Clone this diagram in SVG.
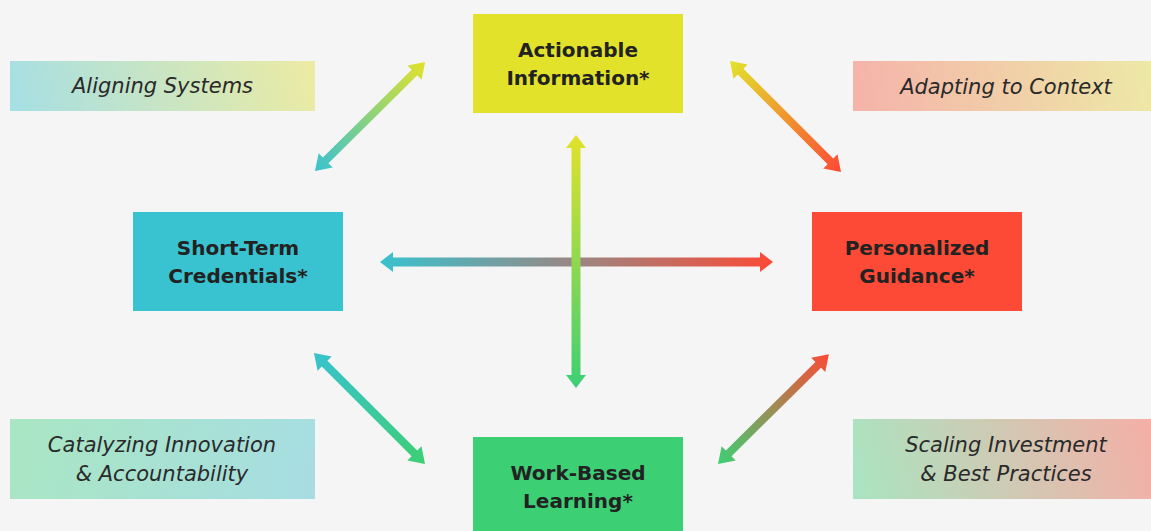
<svg xmlns="http://www.w3.org/2000/svg" width="1151" height="531" viewBox="0 0 1151 531">
<defs>
<style>
.node-label{font-family:"DejaVu Sans","Liberation Sans",sans-serif;font-weight:bold;font-size:20px;fill:#222;text-anchor:middle}
.theme{font-family:"DejaVu Sans","Liberation Sans",sans-serif;font-style:italic;font-size:21px;fill:#2a2a2a;text-anchor:middle}
</style>
<linearGradient id="gAlign" gradientUnits="userSpaceOnUse" x1="20" y1="131" x2="305" y2="41"><stop offset="0" stop-color="#a6dfe4"/><stop offset="1" stop-color="#ecebA3"/></linearGradient>
<linearGradient id="gAdapt" gradientUnits="userSpaceOnUse" x1="863" y1="111" x2="1151" y2="61"><stop offset="0" stop-color="#f5b4aa"/><stop offset="1" stop-color="#ede9a6"/></linearGradient>
<linearGradient id="gCat" gradientUnits="userSpaceOnUse" x1="10" y1="419" x2="315" y2="499"><stop offset="0" stop-color="#a9e6c2"/><stop offset="1" stop-color="#a7dde3"/></linearGradient>
<linearGradient id="gScale" gradientUnits="userSpaceOnUse" x1="853" y1="499" x2="1151" y2="419"><stop offset="0" stop-color="#a9e5c1"/><stop offset="1" stop-color="#f5afa7"/></linearGradient>
<linearGradient id="aTealRed" x1="0" y1="0" x2="1" y2="0"><stop offset="0" stop-color="#39c2cf"/><stop offset="1" stop-color="#fc4a36"/></linearGradient>
<linearGradient id="aYelGreen" x1="0" y1="0" x2="1" y2="0"><stop offset="0" stop-color="#e2e22a"/><stop offset="1" stop-color="#3dcf74"/></linearGradient>
<linearGradient id="aTealYel" x1="0" y1="0" x2="1" y2="0"><stop offset="0" stop-color="#39c2cf"/><stop offset="1" stop-color="#e2e22a"/></linearGradient>
<linearGradient id="aYelRed" x1="0" y1="0" x2="1" y2="0"><stop offset="0" stop-color="#e2e22a"/><stop offset="1" stop-color="#fc4a36"/></linearGradient>
<linearGradient id="aTealGreen" x1="0" y1="0" x2="1" y2="0"><stop offset="0" stop-color="#39c2cf"/><stop offset="1" stop-color="#3dcf74"/></linearGradient>
<linearGradient id="aGreenRed" x1="0" y1="0" x2="1" y2="0"><stop offset="0" stop-color="#3dcf74"/><stop offset="1" stop-color="#fc4a36"/></linearGradient>
</defs>
<rect width="1151" height="531" fill="#f5f5f5"/>

<g id="themes">
<g id="theme-aligning"><rect x="10" y="61" width="305" height="50" fill="url(#gAlign)"/><text class="theme" x="162.5" y="93">Aligning Systems</text></g>
<g id="theme-adapting"><rect x="853" y="61" width="306" height="50" fill="url(#gAdapt)"/><text class="theme" x="1006" y="94">Adapting to Context</text></g>
<g id="theme-catalyzing"><rect x="10" y="419" width="305" height="80" fill="url(#gCat)"/><text class="theme" x="162" y="452">Catalyzing Innovation</text><text class="theme" x="162" y="481">&amp; Accountability</text></g>
<g id="theme-scaling"><rect x="853" y="419" width="306" height="80" fill="url(#gScale)"/><text class="theme" x="1006" y="452">Scaling Investment</text><text class="theme" x="1006" y="481">&amp; Best Practices</text></g>
</g>

<g id="connectors">
<path transform="translate(380,262)" fill="url(#aTealRed)" d="M0,0 L13,-10 L13,-4.5 L380,-4.5 L380,-10 L393,0 L380,10 L380,4.5 L13,4.5 L13,10 Z"/>
<path transform="translate(576,135) rotate(90)" fill="url(#aYelGreen)" d="M0,0 L13,-10 L13,-4.5 L240,-4.5 L240,-10 L253,0 L240,10 L240,4.5 L13,4.5 L13,10 Z"/>
<path transform="translate(315,171) rotate(-44.7)" fill="url(#aTealYel)" d="M0,0 L15,-10 L15,-4 L140,-4 L140,-10 L155,0 L140,10 L140,4 L15,4 L15,10 Z"/>
<path transform="translate(730,61) rotate(45)" fill="url(#aYelRed)" d="M0,0 L15,-10 L15,-4 L142,-4 L142,-10 L157,0 L142,10 L142,4 L15,4 L15,10 Z"/>
<path transform="translate(314,353) rotate(45)" fill="url(#aTealGreen)" d="M0,0 L15,-10 L15,-4 L142,-4 L142,-10 L157,0 L142,10 L142,4 L15,4 L15,10 Z"/>
<path transform="translate(718,464) rotate(-44.7)" fill="url(#aGreenRed)" d="M0,0 L15,-10 L15,-4 L141,-4 L141,-10 L156,0 L141,10 L141,4 L15,4 L15,10 Z"/>
</g>

<g id="node-actionable"><rect x="473" y="14" width="210" height="99" fill="#e2e22a"/><text class="node-label" x="578" y="57">Actionable</text><text class="node-label" x="578" y="85">Information*</text></g>
<g id="node-short-term"><rect x="133" y="212" width="210" height="99" fill="#39c2cf"/><text class="node-label" x="238" y="255">Short-Term</text><text class="node-label" x="238" y="283">Credentials*</text></g>
<g id="node-personalized"><rect x="812" y="212" width="210" height="99" fill="#fc4a36"/><text class="node-label" x="917" y="255">Personalized</text><text class="node-label" x="917" y="283">Guidance*</text></g>
<g id="node-work-based"><rect x="473" y="437" width="210" height="99" fill="#3dcf74"/><text class="node-label" x="578" y="480">Work-Based</text><text class="node-label" x="578" y="508">Learning*</text></g>
</svg>
